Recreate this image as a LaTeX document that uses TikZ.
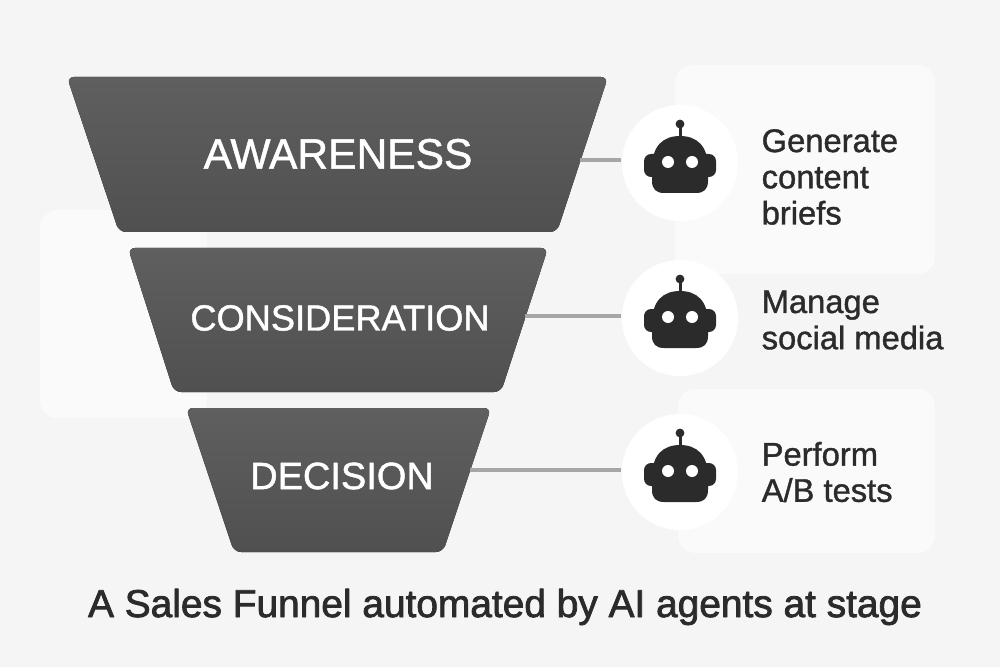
\documentclass[tikz,border=0pt]{standalone}
\usepackage{fontspec}
\setmainfont{Liberation Sans}[FakeBold=1.2]
\newfontfamily\captionfont{Liberation Sans}[FakeBold=2]
\usepackage{tikz}
\definecolor{paper}{HTML}{F5F5F5}
\definecolor{panel}{HTML}{FAFAFA}
\definecolor{ink}{HTML}{2B2B2B}
\definecolor{wire}{HTML}{A6A6A6}
\definecolor{funneltop}{HTML}{5F5F5F}
\definecolor{funnelbottom}{HTML}{505050}
\tikzset{
    panelbox/.style={fill=panel, rounded corners=5pt},
    funnel/.style={top color=funneltop, bottom color=funnelbottom, rounded corners=2pt},
    stage/.style={text=white, inner sep=0pt},
    botdisc/.style={circle, fill=white, minimum size=1.16cm, inner sep=0pt},
    task/.style={text=ink, anchor=west, align=left, inner sep=0pt, font=\fontsize{9.3}{10.3}\selectfont},
    wireline/.style={draw=wire, line width=1.05pt, line cap=butt},
    robot/.pic={
        \fill[ink, rounded corners=2pt] (-36,-9) -- (36,-9) -- (36,14) -- (-36,14) -- cycle;
        \fill[ink] (-28,5) .. controls (-28,-17) and (-17,-27) .. (0,-27) .. controls (17,-27) and (28,-17) .. (28,5) -- (28,18) .. controls (28,26) and (24,30) .. (16,30) -- (-16,30) .. controls (-24,30) and (-28,26) .. (-28,18) -- cycle;
        \fill[ink] (-1.5,-36) rectangle (1.5,-25);
        \fill[ink] (0,-39) circle (4.4);
        \fill[white] (-12,-1) circle (6) (12,-1) circle (6);
    }
}

\begin{document}
\begin{tikzpicture}[line cap=round,line join=round,x=0.01cm,y=-0.01cm]
    \useasboundingbox (0,0) rectangle (1000,667);
    \fill[paper] (0,0) rectangle (1000,667);

    % panels behind everything
    \fill[panelbox] (675,65) rectangle (935,274);
    \fill[panelbox] (40,210) rectangle (207,418);
    \fill[panelbox] (678,389) rectangle (935,553);

    % funnel
    \fill[funnel] (67,77) -- (608,77) -- (557,232) -- (119,232) -- cycle;
    \fill[funnel] (128,248) -- (548,248) -- (501,392) -- (174,392) -- cycle;
    \fill[funnel] (186,408) -- (491,408) -- (443,552) -- (234,552) -- cycle;

    \node[stage, font=\fontsize{12.1}{15}\selectfont] (awareness) at (338,154) {AWARENESS};
    \node[stage, font=\fontsize{10.3}{13}\selectfont] (consideration) at (340,318) {CONSIDERATION};
    \node[stage, font=\fontsize{10.8}{13}\selectfont] (decision) at (342,476) {DECISION};

    % discs with the robots
    \node[botdisc] (bot1) at (680,163) {};
    \node[botdisc] (bot2) at (680,318) {};
    \node[botdisc] (bot3) at (680,472) {};
    \foreach \n in {1,2,3}
        \pic at (bot\n) {robot};

    % wires
    \coordinate (edge1) at (580,160);
    \coordinate (edge2) at (525,316);
    \coordinate (edge3) at (470,470);
    \foreach \n in {1,2,3}
        \draw[wireline] (edge\n) -- (bot\n.west |- edge\n);

    \node[task] (task1) at (761,177) {Generate\\content\\briefs};
    \node[task] (task2) at (761,320) {Manage\\social media};
    \node[task] (task3) at (761,472) {Perform\\A/B tests};

    \node[text=ink, inner sep=0pt, font=\captionfont\fontsize{11.05}{13}\selectfont] (caption) at (505,607) {A Sales Funnel automated by AI agents at stage};
\end{tikzpicture}
\end{document}
